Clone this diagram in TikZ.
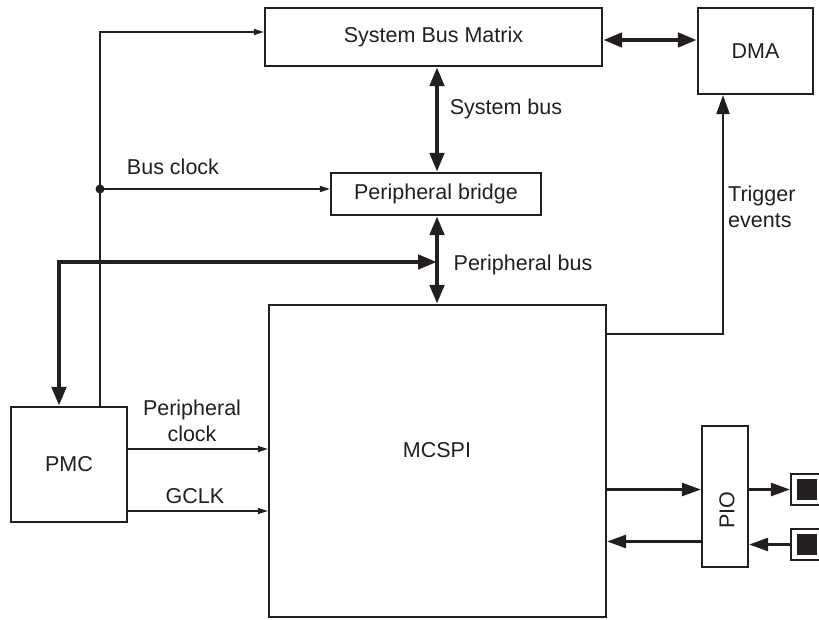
\documentclass[tikz,border=0pt]{standalone}
\usepackage{fontspec}
\setmainfont{Liberation Sans}
\usetikzlibrary{arrows.meta}
\definecolor{ink}{RGB}{35,31,32}
\begin{document}
\begin{tikzpicture}[x=1pt,y=-1pt, color=ink,
  font=\fontsize{21.5}{25.5}\selectfont,
  box/.style={draw, line width=2.2pt, inner sep=0pt},
  lbl/.style={inner sep=0pt},
  clkarrow/.style={line width=1.3pt, -{Triangle[length=10pt,width=6pt]}},
  bus/.style={line width=4.5pt, {Triangle[length=19pt,width=14pt]}-{Triangle[length=19pt,width=14pt]}},
  mid/.style={line width=2.5pt, -{Triangle[length=19pt,width=13pt]}},
  pinbox/.style={draw, line width=2.2pt, minimum width=31pt, minimum height=31pt, inner sep=0pt},
  pincore/.style={fill=ink, minimum width=20pt, minimum height=21pt, inner sep=0pt}]
\useasboundingbox (0,0) rectangle (819,620);
\clip (0,0) rectangle (819,620);
% blocks
\node[box, minimum width=337pt, minimum height=58pt] (sbm) at (433.5,37) {System Bus Matrix};
\node[box, minimum width=115pt, minimum height=86pt] (dma) at (755.5,51) {DMA};
\node[box, minimum width=210pt, minimum height=42pt] (pb) at (436,194) {Peripheral bridge};
\node[box, minimum width=337pt, minimum height=312pt] (mcspi) at (437.5,461) {};
\node[lbl] (mcspitext) at (437,450) {MCSPI};
\node[box, minimum width=116pt, minimum height=115pt] (pmc) at (69,464.5) {PMC};
\node[box, minimum width=46pt, minimum height=141pt] (pio) at (725,496.5) {};
\node[lbl, rotate=90] (piotext) at (727,510) {PIO};
\node[pinbox] (p1) at (806.5,489.5) {};
\node[pincore] (p1c) at (p1) {};
\node[pinbox] (p2) at (806.5,544.5) {};
\node[pincore] (p2c) at (p2) {};
% buses
\draw[bus] ([yshift=-3pt]sbm.east) -- ([yshift=-3pt]sbm.east -| dma.west);
\draw[bus] ([xshift=1pt]pb.north |- sbm.south) -- ([xshift=1pt]pb.north);
\draw[bus] ([xshift=1pt]pb.south) -- ([xshift=1pt]pb.south |- mcspi.north);
\coordinate (pbj) at (437,262);
\draw[bus] (pbj) -| ([xshift=-10pt]pmc.north);
% clocks
\draw[clkarrow] ([xshift=31pt]pmc.north) |- ([yshift=5pt]sbm.west);
\coordinate (clk) at (100,189);
\fill (clk) circle (4.5pt);
\draw[clkarrow] (clk) -- (clk -| pb.west);
\draw[clkarrow] ([yshift=15.5pt]pmc.east) coordinate (pc) -- (pc -| mcspi.west);
\draw[clkarrow] ([yshift=-46.5pt]pmc.east) coordinate (gc) -- (gc -| mcspi.west);
% trigger
\draw[line width=2.3pt, -{Triangle[length=19pt,width=13pt]}] ([yshift=-30pt]mcspi.north east) -| ([xshift=-32.5pt]dma.south);
% PIO
\draw[mid] (mcspi.east |- p1) -- (pio.west |- p1);
\draw[mid] ([yshift=3pt]pio.west |- p2) -- ([yshift=3pt]mcspi.east |- p2);
\draw[mid] (pio.east |- p1) -- (p1.west);
\draw[mid] (p2.west) -- (pio.east |- p2);
% labels
\node[lbl] (lsb) at (506,109) {System bus};
\node[lbl] (lpb) at (523,265) {Peripheral bus};
\node[lbl] (lbc) at (173,167) {Bus clock};
\node[lbl, align=center] (lpc) at (192,421) {Peripheral\\clock};
\node[lbl] (lgc) at (195,496) {GCLK};
\node[lbl, align=left, anchor=west] (ltr) at (728,207) {Trigger\\events};
\end{tikzpicture}
\end{document}
